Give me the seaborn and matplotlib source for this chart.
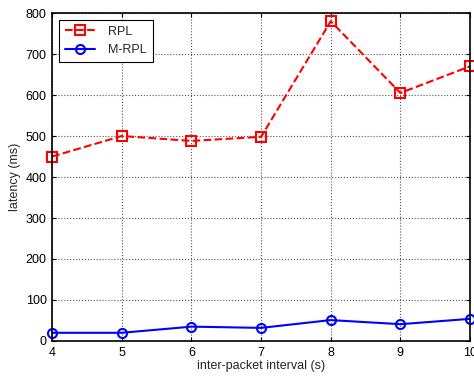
import numpy as np
import pandas as pd
import seaborn as sns
from matplotlib import pyplot as plt

interval = [4, 5, 6, 7, 8, 9, 10]
rpl = [450, 500, 488, 498, 780, 605, 670]
mrpl = [20, 20, 35, 32, 51, 41, 54]

df = pd.DataFrame({"interval": interval * 2,
                   "latency": rpl + mrpl,
                   "protocol": ["RPL"] * len(interval) + ["M-RPL"] * len(interval)})

sns.set_style("white")
plt.rcParams['font.family'] = ['Liberation Sans', 'DejaVu Sans']
plt.rcParams['font.size'] = 9

fig = plt.figure(figsize=(4.74, 3.77), dpi=100)
ax = fig.add_axes([0.11, 0.0955, 0.8816, 0.87])

sns.lineplot(data=df[df.protocol == "RPL"], x="interval", y="latency", ax=ax,
             color="red", linestyle="--", linewidth=1.5, marker="s", markersize=6.5,
             markerfacecolor="none", markeredgecolor="red", markeredgewidth=1.5,
             label="RPL", clip_on=False)
sns.lineplot(data=df[df.protocol == "M-RPL"], x="interval", y="latency", ax=ax,
             color="blue", linestyle="-", linewidth=1.5, marker="o", markersize=6.5,
             markerfacecolor="none", markeredgecolor="blue", markeredgewidth=1.5,
             label="M-RPL", clip_on=False)

ax.set_xlim(4, 10)
ax.set_ylim(0, 800)
ax.set_xticks(interval)
ax.set_yticks(range(0, 801, 100))
ax.grid(True, color="#555555", linestyle=":", linewidth=0.8)
for s in ax.spines.values():
    s.set_visible(True)
    s.set_color("black")
    s.set_linewidth(1.2)
ax.tick_params(direction="in", length=3, width=0.8, colors="black", pad=4,
               labelsize=9, top=True, right=True, bottom=True, left=True)
ax.set_xlabel("inter-packet interval (s)", fontsize=9, labelpad=1)
ax.set_ylabel("latency (ms)", fontsize=9, labelpad=3)

leg = ax.legend(loc="upper left", fancybox=False, framealpha=1, edgecolor="black",
                fontsize=9, handlelength=2.4, handletextpad=1.0, borderpad=0.5,
                labelspacing=0.5, borderaxespad=0, bbox_to_anchor=(0.017, 0.98))
leg.get_frame().set_linewidth(0.8)

fig.savefig("out.png", dpi=100)
